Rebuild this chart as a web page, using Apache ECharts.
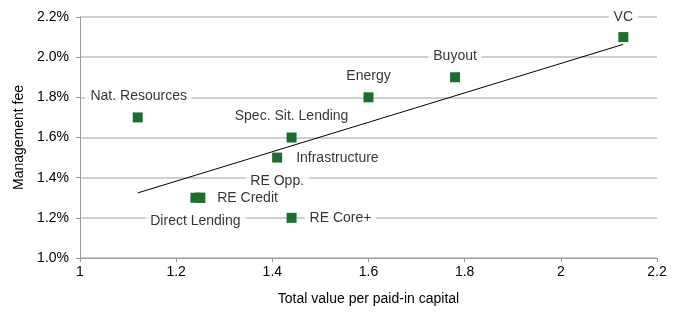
<!DOCTYPE html>
<html><head><meta charset="utf-8">
<script src="https://cdn.jsdelivr.net/npm/echarts@6/dist/echarts.min.js"></script>
<style>html,body{margin:0;padding:0;background:#fff}#c{width:685px;height:328px}</style>
</head><body><div id="c"></div>
<script>
var names = ['VC','Buyout','Energy','Nat. Resources','Spec. Sit. Lending','Infrastructure','RE Opp.','RE Credit','Direct Lending','RE Core+'];
var tvpi  = [2.13, 1.78, 1.60, 1.12, 1.44, 1.41, 1.25, 1.25, 1.24, 1.44];
var fees  = [2.10, 1.90, 1.80, 1.70, 1.60, 1.50, 1.30, 1.30, 1.30, 1.20];
var trendX = [1.12, 2.13];
var trendY = [1.324, 2.064];
var xTicks = {min:1, max:2.2, interval:0.2};
var yTicks = {min:1.0, max:2.2, interval:0.2};

// label layout: [align, dx, dy]
var labelLayout = [
  ['center',0,-20],['center',0,-21],['center',0,-21],['center',1,-21],['center',0,-21],
  ['left',14,1],['center',77,-17],['left',12,0],['center',0,23],['left',13,0]
];
var font = 'Liberation Sans';
var pts = names.map(function(n,i){ return {name:n, value:[tvpi[i], fees[i]]}; });
var labelPts = names.map(function(n,i){
  var L = labelLayout[i];
  return {name:n, value:[tvpi[i], fees[i]], label:{align:L[0], offset:[L[1],L[2]]}};
});
var chart = echarts.init(document.getElementById('c'));
chart.setOption({
  animation:false,
  grid:{left:80,right:28,top:17,bottom:70,containLabel:false},
  xAxis:{type:'value',min:xTicks.min,max:xTicks.max,interval:xTicks.interval,
    name:'Total value per paid-in capital',nameLocation:'middle',nameGap:34,
    nameTextStyle:{fontFamily:font,fontSize:14,color:'#000'},
    axisLine:{show:true,lineStyle:{color:'#999',width:1}},
    axisTick:{show:true,length:4,lineStyle:{color:'#999'}},
    axisLabel:{fontFamily:font,fontSize:14,color:'#000',margin:7,
      formatter:function(v){return String(Math.round(v*10)/10);}},
    splitLine:{show:false}},
  yAxis:{type:'value',min:yTicks.min,max:yTicks.max,interval:yTicks.interval,
    name:'Management fee',nameLocation:'middle',nameGap:51,nameRotate:90,
    nameTextStyle:{fontFamily:font,fontSize:14,color:'#000'},
    axisLine:{show:true,lineStyle:{color:'#999',width:1}},
    axisTick:{show:true,length:4,lineStyle:{color:'#999'}},
    axisLabel:{fontFamily:font,fontSize:14,color:'#000',margin:11,
      formatter:function(v){return v.toFixed(1)+'%';}},
    splitLine:{show:true,lineStyle:{color:'#bfbfbf',width:1.5}}},
  series:[
    {type:'scatter',data:labelPts,symbol:'rect',symbolSize:0,z:2,silent:true,
     label:{show:true,position:'inside',formatter:'{b}',fontFamily:font,fontSize:14,color:'#000',
       backgroundColor:'#fff',padding:[1,5]}},
    {type:'line',data:trendX.map(function(x,i){return [x,trendY[i]];}),
     symbol:'none',lineStyle:{color:'#000',width:1},z:5,silent:true},
    {type:'scatter',data:pts,symbol:'rect',symbolSize:10,
     itemStyle:{color:'#1b6e2e',opacity:1},z:6}
  ]
});
</script></body></html>
